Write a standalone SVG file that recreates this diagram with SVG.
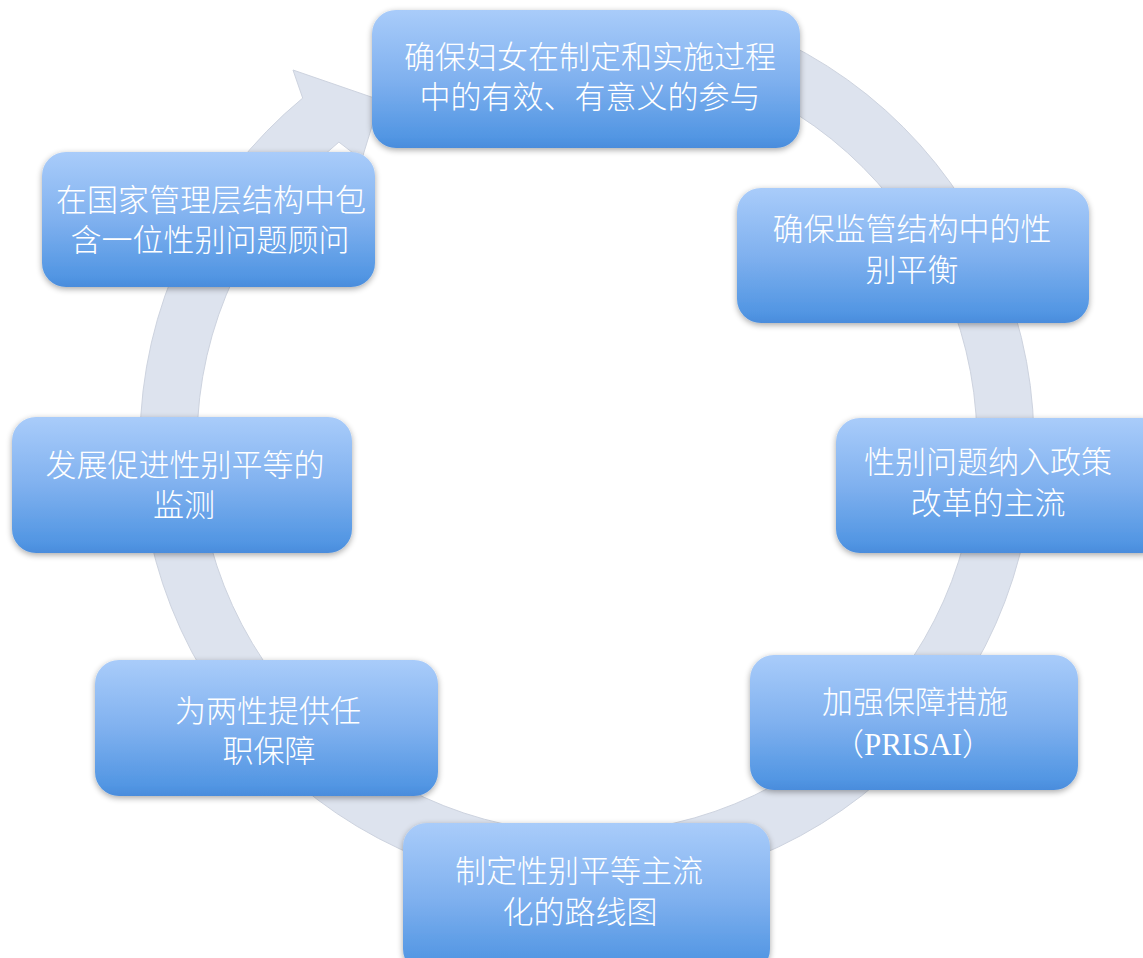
<svg xmlns="http://www.w3.org/2000/svg" width="1143" height="958" viewBox="0 0 1143 958">
<defs>
<linearGradient id="bg" x1="0" y1="0" x2="0" y2="1">
<stop offset="0" stop-color="#a9ccfa"/>
<stop offset="0.5" stop-color="#80b1ef"/>
<stop offset="0.92" stop-color="#5296e3"/>
<stop offset="1" stop-color="#4a8cdc"/>
</linearGradient>
<filter id="sh" x="-10%" y="-15%" width="120%" height="135%">
<feGaussianBlur in="SourceAlpha" stdDeviation="3"/>
<feOffset dx="0" dy="2" result="b"/>
<feComponentTransfer><feFuncA type="linear" slope="0.35"/></feComponentTransfer>
<feMerge><feMergeNode/><feMergeNode in="SourceGraphic"/></feMerge>
</filter>
</defs>
<style>
.box{fill:url(#bg);filter:url(#sh);}
.t{font-family:"Liberation Serif","Noto Sans CJK SC",serif;font-size:31px;font-weight:300;fill:#ffffff;text-anchor:middle;}
.ring{fill:#dde3ee;stroke:#cdd3df;stroke-width:1;}
</style>
<rect width="1143" height="958" fill="#ffffff"/>
<g id="connectors">
<path class="ring" d="M 739.9 23.0 A 447 447 0 1 1 302.7 98.1 L 293 70 L 380 100 L 361.7 159.7 L 338.9 142.1 A 390 390 0 1 0 720.4 76.5 Z"/>
</g>
<g id="n1">
<rect class="box" x="372" y="10" width="428" height="138" rx="24"/>
<text class="t" x="590" y="68">确保妇女在制定和实施过程</text>
<text class="t" x="590" y="108">中的有效、有意义的参与</text>
</g>
<g id="n2">
<rect class="box" x="737" y="188" width="352" height="135" rx="24"/>
<text class="t" x="912" y="240">确保监管结构中的性</text>
<text class="t" x="912" y="281">别平衡</text>
</g>
<g id="n3">
<rect class="box" x="836" y="418" width="330" height="135" rx="24"/>
<text class="t" x="988" y="473">性别问题纳入政策</text>
<text class="t" x="988" y="514">改革的主流</text>
</g>
<g id="n4">
<rect class="box" x="750" y="655" width="328" height="135" rx="24"/>
<text class="t" x="915" y="713">加强保障措施</text>
<text class="t" x="913" y="755">（PRISAI）</text>
</g>
<g id="n5">
<rect class="box" x="403" y="823" width="367" height="150" rx="24"/>
<text class="t" x="579" y="882">制定性别平等主流</text>
<text class="t" x="580" y="923">化的路线图</text>
</g>
<g id="n6">
<rect class="box" x="95" y="660" width="343" height="136" rx="24"/>
<text class="t" x="268" y="722">为两性提供任</text>
<text class="t" x="269" y="762">职保障</text>
</g>
<g id="n7">
<rect class="box" x="12" y="417" width="340" height="136" rx="24"/>
<text class="t" x="185" y="476">发展促进性别平等的</text>
<text class="t" x="184" y="516">监测</text>
</g>
<g id="n8">
<rect class="box" x="42" y="152" width="333" height="135" rx="24"/>
<text class="t" x="211" y="211">在国家管理层结构中包</text>
<text class="t" x="210" y="251">含一位性别问题顾问</text>
</g>
</svg>
